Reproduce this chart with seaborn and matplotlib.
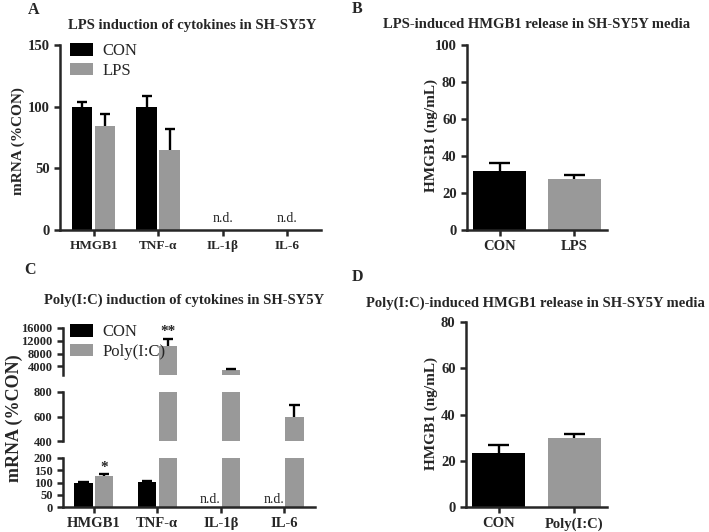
import pandas as pd
import matplotlib
matplotlib.use("Agg")
import matplotlib.pyplot as plt
import seaborn as sns

# Genes measured by qPCR
genes = ["HMGB1", "TNF-α", "IL-1β", "IL-6"]

# Panel A: LPS induction (mRNA, %CON), mean and SEM
lps_con = [100, 100, 0, 0]
lps_con_err = [4, 9, 0, 0]
lps_trt = [84, 65, 0, 0]
lps_trt_err = [10, 17, 0, 0]

# Panel B: HMGB1 release after LPS (ng/mL)
rel_b_groups = ["CON", "LPS"]
rel_b = [32, 27.5]
rel_b_err = [4, 2.5]

# Panel C: Poly(I:C) induction (mRNA, %CON)
pic_con = [100, 103, 0, 0]
pic_con_err = [2, 5, 0, 0]
pic_trt = [127, 10500, 3000, 595]
pic_trt_err = [6, 2000, 100, 95]

# Panel D: HMGB1 release after Poly(I:C) (ng/mL)
rel_d_groups = ["CON", "Poly(I:C)"]
rel_d = [23.5, 30]
rel_d_err = [3.5, 1.5]

BLACK = "#000000"
GRAY = "#999999"

sns.set_style("ticks")
plt.rcParams["font.family"] = ["Liberation Serif", "DejaVu Serif"]
plt.rcParams["axes.linewidth"] = 1.8
plt.rcParams["xtick.major.width"] = 1.8
plt.rcParams["ytick.major.width"] = 1.8
plt.rcParams["xtick.major.size"] = 4
plt.rcParams["ytick.major.size"] = 4


def long_frame(con, trt, trt_name):
    return pd.DataFrame({
        "gene": genes * 2,
        "group": ["CON"] * len(genes) + [trt_name] * len(genes),
        "value": con + trt,
    })


def add_errors(ax, errs_by_hue, cap):
    # upper-only SEM bars drawn from each seaborn bar
    for cont, errs in zip(ax.containers, errs_by_hue):
        for bar, e in zip(cont, errs):
            h = bar.get_height()
            if h <= 0:
                continue
            x = bar.get_x() + bar.get_width() / 2
            ax.vlines(x, h, h + e, color="black", lw=1.7, zorder=1)
            ax.hlines(h + e, x - cap, x + cap, color="black", lw=1.7, zorder=1)


def style_axis(ax, ysize, xsize, bottom=True):
    sns.despine(ax=ax, bottom=not bottom)
    ax.set_xlabel("")
    ax.set_ylabel("")
    for lab in ax.get_yticklabels():
        lab.set_fontweight("bold")
        lab.set_fontsize(ysize)
    if bottom:
        for lab in ax.get_xticklabels():
            lab.set_fontweight("bold")
            lab.set_fontsize(xsize)
    else:
        ax.tick_params(axis="x", bottom=False, labelbottom=False)


W, H = 709, 532
fig = plt.figure(figsize=(W / 100, H / 100), dpi=100)


def add_ax(left, top, right, bottom):
    return fig.add_axes([left / W, 1 - bottom / H, (right - left) / W, (bottom - top) / H])


def fig_legend(ax, x, y):
    ax.legend(loc="upper left", bbox_to_anchor=(x / W, 1 - y / H),
              bbox_transform=fig.transFigure, frameon=False, fontsize=12,
              borderpad=0, borderaxespad=0, handlelength=1.35,
              handleheight=0.8, handletextpad=0.6, labelspacing=0.2)


def ftext(x, y, s, **kw):
    fig.text(x / W, 1 - y / H, s, ha="center", va="center", **kw)


pal2 = {"CON": BLACK, "LPS": GRAY, "Poly(I:C)": GRAY}

# ---------- Panel A ----------
axA = add_ax(60, 45, 321, 230)
dfA = long_frame(lps_con, lps_trt, "LPS")
sns.barplot(data=dfA, x="gene", y="value", hue="group", palette=pal2,
            width=0.71, gap=0.1, errorbar=None, ax=axA, saturation=1, linewidth=0)
add_errors(axA, [lps_con_err, lps_trt_err], 0.08)
axA.set_ylim(0, 150)
axA.set_yticks([0, 50, 100, 150])
fig_legend(axA, 70, 43)
style_axis(axA, 10.5, 9.5)
for i in (2, 3):
    axA.text(i, 4, "n.d.", ha="center", va="bottom", fontsize=10)
ftext(192, 25, "LPS induction of cytokines in SH-SY5Y", fontsize=10.5, fontweight="bold")
ftext(18, 141, "mRNA (%CON)", rotation=90, fontsize=11, fontweight="bold")

# ---------- Panel B ----------
axB = add_ax(467, 45, 607, 230)
dfB = pd.DataFrame({"group": rel_b_groups, "value": rel_b})
sns.barplot(data=dfB, x="group", y="value", hue="group", palette=pal2,
            width=0.7, errorbar=None, legend=False, ax=axB, saturation=1, linewidth=0)
add_errors(axB, [[e] for e in rel_b_err], 0.14)
axB.set_ylim(0, 100)
axB.set_yticks([0, 20, 40, 60, 80, 100])
style_axis(axB, 10.5, 10.5)
ftext(431, 135, "HMGB1 (ng/mL)", rotation=90, fontsize=11, fontweight="bold")
ftext(537, 25, "LPS-induced HMGB1 release in SH-SY5Y media", fontsize=10.5,
      fontweight="bold")

# ---------- Panel C (broken y axis) ----------
dfC = long_frame(pic_con, pic_trt, "Poly(I:C)")
segments = [
    ((1300, 16000), [4000, 8000, 12000, 16000], 328, 375),
    ((400, 800), [400, 600, 800], 392, 441),
    ((0, 200), [0, 50, 100, 150, 200], 458, 507),
]
c_axes = []
for k, (lim, ticks, top, bot) in enumerate(segments):
    ax = add_ax(63, top, 315, bot)
    sns.barplot(data=dfC, x="gene", y="value", hue="group", palette=pal2,
                width=0.65, gap=0.12, errorbar=None, ax=ax, saturation=1,
                linewidth=0, legend=(k == 0))
    add_errors(ax, [pic_con_err, pic_trt_err], 0.08)
    ax.set_ylim(*lim)
    ax.set_yticks(ticks)
    style_axis(ax, 9, 10.5, bottom=(k == 2))
    c_axes.append(ax)

axC_top, axC_mid, axC_bot = c_axes
fig_legend(axC_top, 70, 324)
# significance marks
b = axC_top.containers[1][1]
axC_top.text(b.get_x() + b.get_width() / 2, pic_trt[1] + pic_trt_err[1] + 400, "**",
             ha="center", va="bottom", fontsize=11, fontweight="bold", clip_on=False)
b = axC_bot.containers[1][0]
axC_bot.text(b.get_x() + b.get_width() / 2, pic_trt[0] + pic_trt_err[0] + 3, "*",
             ha="center", va="bottom", fontsize=11, fontweight="bold")
for i in (2, 3):
    b = axC_bot.containers[0][i]
    axC_bot.text(b.get_x() + b.get_width() / 2, 5, "n.d.", ha="center",
                 va="bottom", fontsize=10)
ftext(184, 300, "Poly(I:C) induction of cytokines in SH-SY5Y", fontsize=10.5,
      fontweight="bold")
ftext(14, 418, "mRNA (%CON)", rotation=90, fontsize=13, fontweight="bold")

# ---------- Panel D ----------
axD = add_ax(466, 322, 607, 507)
dfD = pd.DataFrame({"group": rel_d_groups, "value": rel_d})
sns.barplot(data=dfD, x="group", y="value", hue="group", palette=pal2,
            width=0.7, errorbar=None, legend=False, ax=axD, saturation=1, linewidth=0)
add_errors(axD, [[e] for e in rel_d_err], 0.14)
axD.set_ylim(0, 80)
axD.set_yticks([0, 20, 40, 60, 80])
style_axis(axD, 10.5, 10.5)
ftext(431, 413, "HMGB1 (ng/mL)", rotation=90, fontsize=11, fontweight="bold")
ftext(535, 303, "Poly(I:C)-induced HMGB1 release in SH-SY5Y media", fontsize=10.5,
      fontweight="bold")

# panel letters
for letter, (px, py) in {"A": (34, 10), "B": (357, 9), "C": (30, 270), "D": (357, 277)}.items():
    ftext(px, py, letter, fontsize=11.5, fontweight="bold")

fig.savefig("out.png", dpi=100)
